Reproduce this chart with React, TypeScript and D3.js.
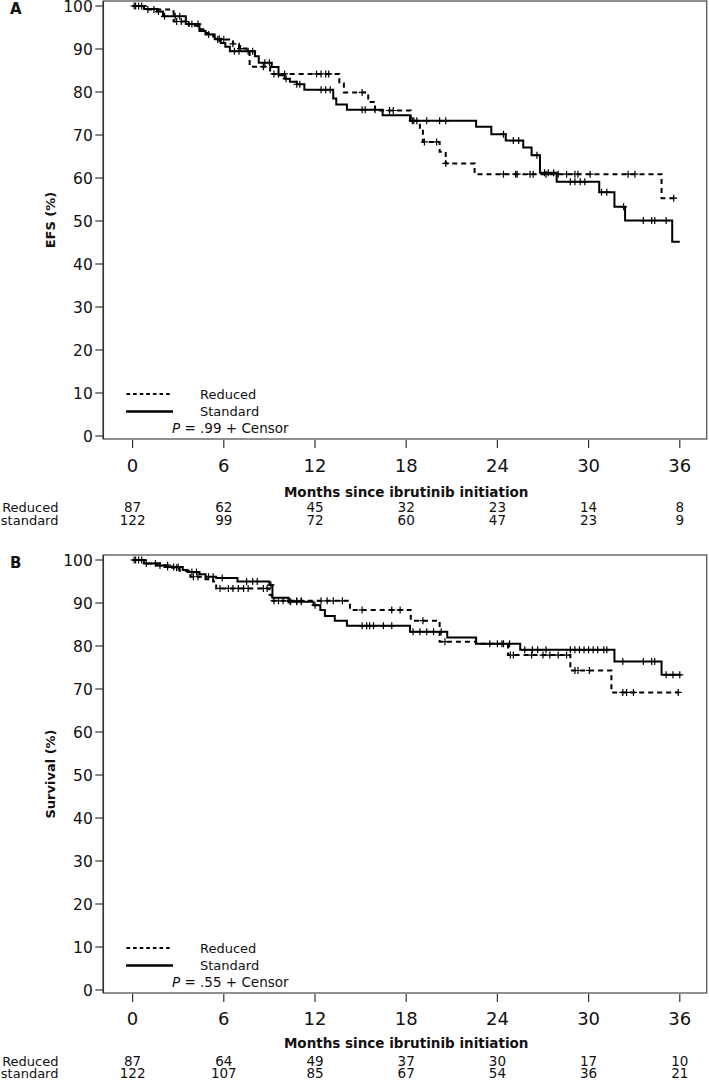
import React from "react";
import * as d3 from "d3";

// ---------- data ----------
const months = [0, 6, 12, 18, 24, 30, 36];
const yTicks = [0, 10, 20, 30, 40, 50, 60, 70, 80, 90, 100];

// Panel A (EFS) — Standard
const efsStdTimes = [0.75, 1.6, 2.0, 3.5, 4.4, 4.8, 5.4, 5.8, 6.1, 6.4, 8.05, 8.3, 9.15, 9.6, 10.0, 10.35, 10.8, 11.3, 13.2, 13.4, 14.1, 16.45, 18.25, 22.6, 23.6, 24.55, 25.7, 26.25, 26.8, 27.9, 30.7, 31.7, 32.4, 35.5];
const efsStdSurv = [99.3, 98.7, 97.6, 95.8, 94.2, 93.4, 92.4, 91.4, 90.5, 89.5, 88.3, 86.8, 85.8, 83.9, 83.1, 82.4, 81.8, 80.5, 78.5, 77.1, 75.9, 74.6, 73.3, 71.9, 70.2, 68.7, 67.1, 65.3, 61.2, 59.1, 56.7, 53.3, 50.1, 45.2];
const efsStdCensor = [0.1, 0.4, 1.7, 2.1, 2.8, 3.1, 3.9, 4.3, 5.0, 5.7, 6.7, 7.0, 7.6, 7.9, 8.7, 9.0, 10.1, 10.8, 11.0, 12.4, 12.7, 13.0, 15.1, 15.3, 15.95, 18.4, 18.7, 19.35, 20.2, 20.6, 24.4, 25.05, 25.4, 26.6, 27.1, 27.35, 27.7, 28.8, 29.1, 29.45, 29.75, 30.85, 31.2, 32.3, 33.6, 34.15, 34.35, 35.1];
const efsStdEnd = 36.0;

// Panel A (EFS) — Reduced
const efsRedTimes = [1.0, 2.4, 2.7, 3.7, 4.4, 4.8, 5.3, 5.6, 6.6, 7.0, 7.5, 7.7, 9.05, 13.6, 13.9, 15.5, 15.95, 18.3, 18.9, 19.1, 20.2, 20.6, 22.5, 34.8];
const efsRedSurv = [99.2, 98.8, 96.4, 95.4, 94.6, 93.7, 92.9, 92.2, 91.2, 90.1, 89.5, 85.9, 84.2, 82.0, 79.9, 77.7, 75.7, 73.3, 71.0, 68.4, 66.1, 63.4, 60.9, 55.3];
const efsRedCensor = [0.2, 0.6, 1.0, 1.4, 2.9, 3.2, 3.5, 5.6, 6.0, 6.6, 7.1, 8.6, 9.3, 9.6, 10.0, 12.1, 12.4, 12.7, 12.9, 15.1, 16.9, 17.15, 18.5, 19.2, 20.0, 20.6, 24.4, 25.2, 25.3, 26.15, 26.35, 27.2, 28.0, 28.55, 29.1, 29.3, 30.1, 32.6, 33.05, 35.6];
const efsRedEnd = 35.8;

// Panel B (Survival) — Standard
const osStdTimes = [0.75, 1.6, 2.1, 3.3, 3.6, 4.4, 4.8, 5.5, 6.9, 9.0, 9.2, 10.25, 11.9, 12.35, 12.65, 13.3, 14.1, 18.25, 20.7, 22.6, 25.5, 31.7, 34.8];
const osStdSurv = [99.2, 98.7, 98.4, 97.7, 97.2, 96.7, 96.1, 95.8, 95.0, 94.2, 91.2, 90.3, 89.5, 88.4, 87.0, 85.9, 84.7, 83.3, 82.0, 80.5, 79.1, 76.4, 73.3];
const osStdCensor = [0.1, 0.4, 0.9, 1.8, 2.3, 2.7, 3.0, 3.9, 4.2, 5.0, 5.3, 5.9, 7.5, 7.9, 8.2, 9.1, 10.4, 10.8, 11.1, 12.0, 15.1, 15.4, 15.6, 15.85, 16.5, 17.05, 18.45, 18.9, 19.35, 19.8, 20.3, 23.5, 24.0, 24.3, 24.8, 25.8, 26.3, 26.65, 27.2, 28.8, 29.1, 29.4, 29.7, 30.0, 30.3, 30.6, 31.0, 31.2, 32.25, 33.6, 34.15, 34.35, 35.1, 35.55, 36.0];
const osStdEnd = 36.05;

// Panel B (Survival) — Reduced
const osRedTimes = [1.0, 2.0, 2.6, 3.1, 3.8, 4.8, 5.3, 5.5, 9.0, 9.15, 14.3, 18.3, 20.2, 22.6, 24.7, 28.8, 31.5];
const osRedSurv = [99.2, 98.8, 98.2, 97.5, 96.1, 95.5, 95.0, 93.4, 91.9, 90.5, 88.4, 85.9, 81.0, 80.5, 77.9, 74.3, 69.2];
const osRedCensor = [0.2, 0.6, 1.5, 2.3, 2.9, 4.0, 4.3, 5.75, 6.3, 6.6, 6.95, 7.3, 7.6, 8.6, 8.85, 9.3, 9.6, 9.9, 10.3, 10.8, 11.1, 12.4, 12.8, 13.2, 13.8, 15.1, 17.05, 17.6, 19.1, 20.55, 24.4, 24.85, 25.05, 26.25, 27.0, 27.45, 28.0, 28.55, 29.1, 29.3, 30.05, 32.25, 32.5, 32.95, 35.9];
const osRedEnd = 35.9;

// Number at risk
const efsRiskReduced = [87, 62, 45, 32, 23, 14, 8];
const efsRiskStandard = [122, 99, 72, 60, 47, 23, 9];
const osRiskReduced = [87, 64, 49, 37, 30, 17, 10];
const osRiskStandard = [122, 107, 85, 67, 54, 36, 21];

// ---------- layout ----------
const W = 709;
const H = 1081;
const FONT = "'DejaVu Sans', Verdana, sans-serif";
const frameLeft = 103.3;
const frameRight = 706.7;

const x = d3.scaleLinear().domain([0, 36]).range([132.6, 679.8]);

type Curve = { times: number[]; surv: number[]; censor: number[]; end: number };

function survAt(c: Curve, t: number) {
  const i = d3.bisectRight(c.times, t);
  return i === 0 ? 100 : c.surv[i - 1];
}

function Panel(props: {
  offY: number;
  letter: string;
  yLabel: string;
  pText: string;
  std: Curve;
  red: Curve;
  riskRed: number[];
  riskStd: number[];
  tickBase: number;
  titleBase: number;
  row1Base: number;
  row2Base: number;
}) {
  const { offY } = props;
  const y = d3.scaleLinear().domain([0, 100]).range([offY + 436, offY + 6]);
  const line = d3
    .line<[number, number]>()
    .x((d) => x(d[0]))
    .y((d) => y(d[1]))
    .curve(d3.curveStepAfter);
  const pathFor = (c: Curve) => {
    const pts: [number, number][] = [[0, 100]];
    c.times.forEach((t, i) => pts.push([t, c.surv[i]]));
    pts.push([c.end, c.surv[c.surv.length - 1]]);
    return line(pts) || "";
  };
  const censorPath = (c: Curve) =>
    c.censor
      .map((t) => {
        const px = x(t);
        const py = y(survAt(c, t));
        return `M${px - 3.5},${py}h7M${px},${py - 3.5}v7`;
      })
      .join("");
  const top = offY + 1;
  const bottom = offY + 439;
  return (
    <g>
      <text x={10} y={offY + 14} fontFamily={FONT} fontSize={15} fontWeight="bold" fill="#111">
        {props.letter}
      </text>
      {/* frame */}
      <rect x={frameLeft} y={top} width={frameRight - frameLeft} height={bottom - top} fill="none" stroke="#555" strokeWidth={1.3} />
      <line x1={frameLeft} x2={frameLeft} y1={top} y2={bottom} stroke="#333" strokeWidth={1.5} />
      {/* y ticks */}
      {yTicks.map((v) => (
        <g key={v}>
          <line x1={frameLeft - 8} x2={frameLeft} y1={y(v)} y2={y(v)} stroke="#333" strokeWidth={1.2} />
          <text x={frameLeft - 10.5} y={y(v)} dy="0.36em" textAnchor="end" fontFamily={FONT} fontSize={15.5} fill="#111">
            {v}
          </text>
        </g>
      ))}
      <text
        transform={`translate(50,${offY + 220}) rotate(-90)`}
        textAnchor="middle"
        dy="0.36em"
        fontFamily={FONT}
        fontSize={13}
        fontWeight="bold"
        fill="#111"
      >
        {props.yLabel}
      </text>
      {/* x ticks */}
      {months.map((m) => (
        <g key={m}>
          <line x1={x(m)} x2={x(m)} y1={bottom + 1} y2={bottom + 9} stroke="#333" strokeWidth={1.2} />
          <text x={x(m)} y={props.tickBase} textAnchor="middle" fontFamily={FONT} fontSize={18} fill="#111">
            {m}
          </text>
        </g>
      ))}
      <text x={x(18)} y={props.titleBase} textAnchor="middle" fontFamily={FONT} fontSize={13.5} fontWeight="bold" fill="#111">
        Months since ibrutinib initiation
      </text>
      {/* risk table */}
      <text x={58.5} y={props.row1Base} textAnchor="end" fontFamily={FONT} fontSize={13} fill="#111">Reduced</text>
      <text x={58.5} y={props.row2Base} textAnchor="end" fontFamily={FONT} fontSize={13} fill="#111">standard</text>
      {months.map((m, i) => (
        <g key={"r" + m}>
          <text x={x(m)} y={props.row1Base} textAnchor="middle" fontFamily={FONT} fontSize={13.5} fill="#111">
            {props.riskRed[i]}
          </text>
          <text x={x(m)} y={props.row2Base} textAnchor="middle" fontFamily={FONT} fontSize={13.5} fill="#111">
            {props.riskStd[i]}
          </text>
        </g>
      ))}
      {/* curves */}
      <path d={pathFor(props.std)} fill="none" stroke="#000" strokeWidth={2} />
      <path d={pathFor(props.red)} fill="none" stroke="#000" strokeWidth={2} strokeDasharray="5,4" />
      <path d={censorPath(props.std)} fill="none" stroke="#000" strokeWidth={1.2} />
      <path d={censorPath(props.red)} fill="none" stroke="#000" strokeWidth={1.2} />
      {/* legend */}
      <line x1={126.5} x2={172} y1={offY + 394} y2={offY + 394} stroke="#000" strokeWidth={2} strokeDasharray="3.6,3" />
      <text x={200} y={offY + 399} fontFamily={FONT} fontSize={13} fill="#111">Reduced</text>
      <line x1={126} x2={173} y1={offY + 411.5} y2={offY + 411.5} stroke="#000" strokeWidth={2.5} />
      <text x={200} y={offY + 416} fontFamily={FONT} fontSize={13} fill="#111">Standard</text>
      <text x={172} y={offY + 433} fontFamily={FONT} fontSize={13.5} fill="#111">
        <tspan fontStyle="italic">P</tspan>
        {props.pText}
      </text>
    </g>
  );
}

export default function App() {
  const efsStd: Curve = { times: efsStdTimes, surv: efsStdSurv, censor: efsStdCensor, end: efsStdEnd };
  const efsRed: Curve = { times: efsRedTimes, surv: efsRedSurv, censor: efsRedCensor, end: efsRedEnd };
  const osStd: Curve = { times: osStdTimes, surv: osStdSurv, censor: osStdCensor, end: osStdEnd };
  const osRed: Curve = { times: osRedTimes, surv: osRedSurv, censor: osRedCensor, end: osRedEnd };
  return (
    <svg
      width={W}
      height={H}
      viewBox={`0 0 ${W} ${H}`}
      style={{ position: "absolute", left: 0, top: 0, display: "block", background: "#fff" }}
    >
      <rect x={0} y={0} width={W} height={H} fill="#fff" />
      <Panel
        offY={0}
        letter="A"
        yLabel="EFS (%)"
        pText=" = .99 + Censor"
        std={efsStd}
        red={efsRed}
        riskRed={efsRiskReduced}
        riskStd={efsRiskStandard}
        tickBase={472}
        titleBase={497}
        row1Base={512}
        row2Base={525}
      />
      <Panel
        offY={554}
        letter="B"
        yLabel="Survival (%)"
        pText=" = .55 + Censor"
        std={osStd}
        red={osRed}
        riskRed={osRiskReduced}
        riskStd={osRiskStandard}
        tickBase={1025}
        titleBase={1048}
        row1Base={1066}
        row2Base={1078}
      />
    </svg>
  );
}
